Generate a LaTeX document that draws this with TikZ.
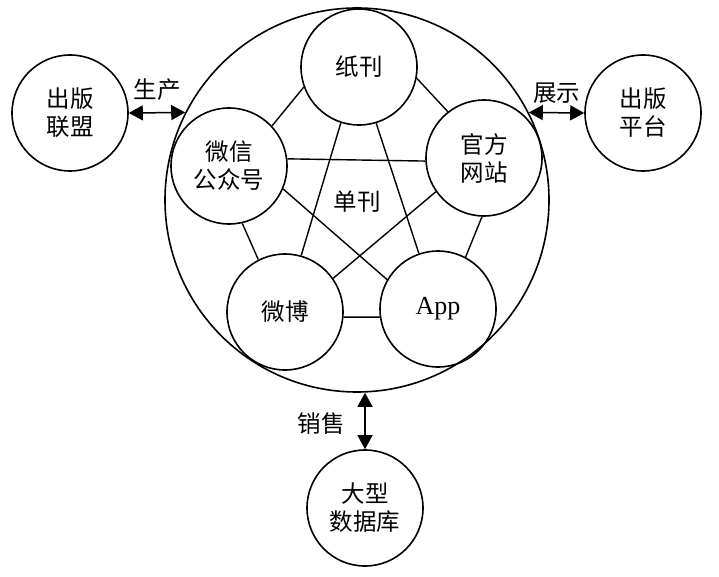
\documentclass[tikz,border=0pt]{standalone}
\usepackage{fontspec}
\setmainfont{Liberation Serif}
\newfontfamily\cjk{Noto Sans CJK SC}
\usetikzlibrary{arrows.meta}
\begin{document}
\begin{tikzpicture}[x=1pt,y=-1pt,
  every node/.style={font=\cjk\fontsize{23.5}{28}\selectfont},
  ring/.style={circle,draw,line width=1.6pt,minimum size=116pt,inner sep=0pt,align=center},
  link/.style={line width=1.4pt},
  biarrow/.style={line width=1.5pt,{Triangle[length=14pt,width=15pt]}-{Triangle[length=14pt,width=15pt]}}]
\useasboundingbox (0,0) rectangle (719,577);
\node[circle,draw,line width=1.6pt,minimum size=384pt,inner sep=0pt] (big) at (357,200) {};
\node[ring] (zk) at (359,67) {纸刊};
\node[ring] (wx) at (229,166) {微信\\公众号};
\node[ring] (gf) at (484,158) {官方\\网站};
\node[ring] (wb) at (285,312) {微博};
\node[ring,font=\fontsize{26}{30}\selectfont] (app) at (438,309) {App};
\node (dk) at (357,202) {单刊};
\node[ring] (lm) at (70,113) {出版\\联盟};
\node[ring] (pt) at (643,113) {出版\\平台};
\node[ring] (db) at (365,508) {大型\\数据库};
% inner links
\draw[link] (zk.200) -- (wx.43);
\draw[link] (zk.349) -- (gf.128);
\draw[link] (zk.252) -- (wb.74);
\draw[link] (zk.287) -- (app.109);
\draw[link] (wx.337) -- (app.150);
\draw[link] (gf.215) -- (wb.35);
\draw[link] (wx.7) -- (gf.183);
\draw[link] (wx.283) -- (wb.117);
\draw[link] (gf.268) -- (app.62);
\draw[link] (wb.355) -- (app.188);
% outer arrows
\draw[biarrow] (lm.east) -- (big.153) node[midway,above=8pt] (sc) {生产};
\draw[biarrow] (big.27) -- (pt.west) node[midway,above=5pt] (zs) {展示};
\draw[biarrow] (db.north |- big.south) -- (db.north) node[midway,left=16pt,yshift=-3pt] (xs) {销售};
\end{tikzpicture}
\end{document}
